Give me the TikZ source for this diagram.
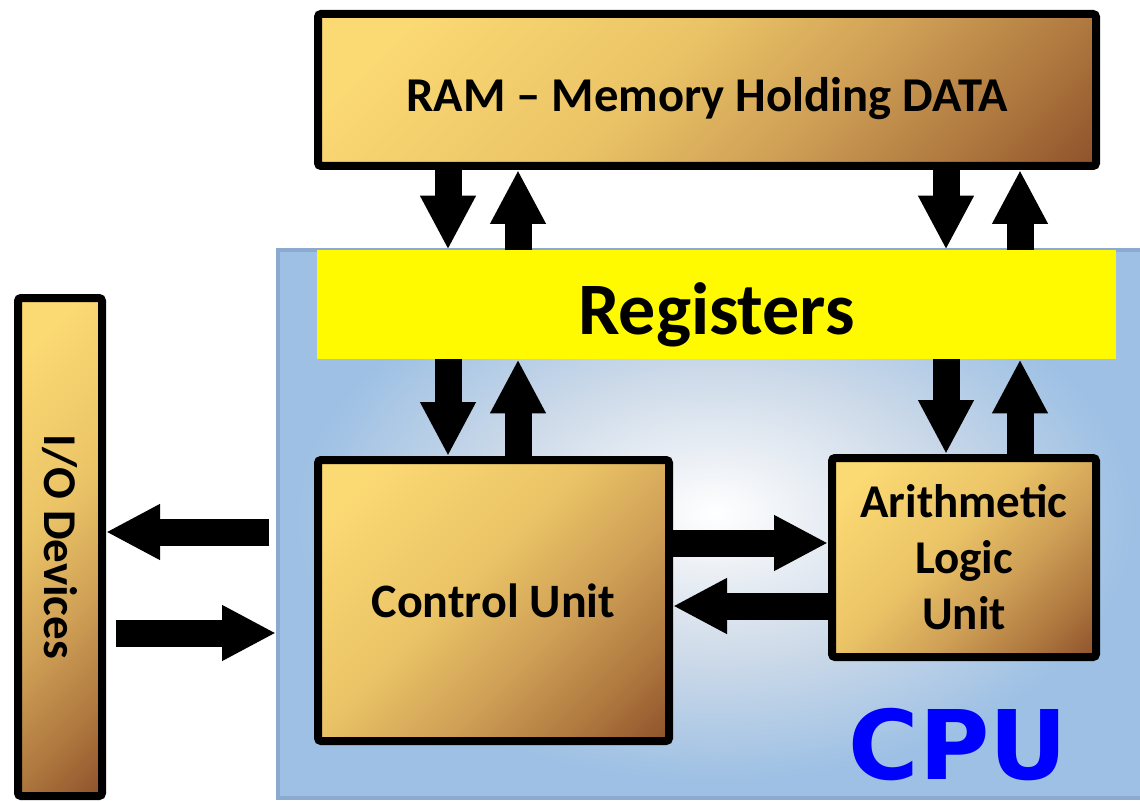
\documentclass[tikz,border=0pt]{standalone}
\usepackage{fontspec}
\setmainfont{Carlito}
\newfontfamily\cpufont{DejaVu Sans}
\usetikzlibrary{arrows.meta, shadows}

\definecolor{goldA}{RGB}{251,217,115}
\definecolor{goldB}{RGB}{234,195,102}
\definecolor{goldC}{RGB}{207,160,86}
\definecolor{goldD}{RGB}{175,120,63}
\definecolor{goldE}{RGB}{140,80,42}
\definecolor{cpublue}{RGB}{157,192,228}
\definecolor{cpuglowA}{RGB}{240,243,247}
\definecolor{cpuglowB}{RGB}{205,218,233}
\definecolor{cpuedge}{RGB}{140,170,208}
\definecolor{regyellow}{RGB}{255,250,0}
\definecolor{cpuink}{RGB}{0,0,255}

\pgfdeclarehorizontalshading{goldfill}{100bp}{color(0bp)=(goldA); color(22bp)=(goldA); color(45bp)=(goldB); color(60bp)=(goldC); color(74bp)=(goldD); color(86bp)=(goldE); color(100bp)=(goldE)}
\pgfdeclareradialshading{cpuglow}{\pgfpoint{0bp}{1bp}}{color(0bp)=(white); color(4bp)=(cpuglowA); color(13bp)=(cpuglowB); color(24bp)=(cpublue); color(50bp)=(cpublue)}

\tikzset{
  goldbox/.style={draw=black, line width=4pt, rounded corners=1.5pt, shading=goldfill, shading angle=-45,
    inner sep=0pt, align=center, font=\bfseries\fontsize{23.5}{28}\selectfont,
    drop shadow={shadow xshift=1.5pt, shadow yshift=-1.5pt, opacity=0.3}},
  flow/.style={line width=13.5pt, -{Triangle[length=27pt,width=26pt]}}
}

\begin{document}
\begin{tikzpicture}[x=0.5pt,y=-0.5pt]
    \useasboundingbox (0,0) rectangle (1140,802);

    \node (cpu) [draw=cpuedge, line width=2pt, shading=cpuglow, minimum width=437pt, minimum height=274pt, inner sep=0pt] at (715,524) {};
    \node (reg) [fill=regyellow, minimum width=399.5pt, minimum height=54.5pt, inner sep=0pt, text height=30.5pt, text depth=0pt,
        font=\bfseries\fontsize{37}{40}\selectfont] at (716.5,304.5) {Registers};
    \node (ram) [goldbox, minimum width=389pt, minimum height=76pt, text height=22pt, text depth=0pt,
        font=\bfseries\fontsize{24.3}{28}\selectfont] at (707,90) {RAM -- Memory Holding DATA};
    \node (cu) [goldbox, minimum width=175.5pt, minimum height=140.5pt, font=\bfseries\fontsize{24}{28}\selectfont] at (493.5,600.5) {Control Unit};
    \node (alu) [goldbox, minimum width=132pt, minimum height=99.5pt] at (964,557.5) {Arithmetic\\Logic\\Unit};
    \node (io) [goldbox, minimum width=42pt, minimum height=249pt] at (60,547) {\rotatebox{-90}{I/O Devices}};
    \node (cpulabel) [text=cpuink, font=\cpufont\bfseries\fontsize{48}{48}\selectfont] at (958,745) {CPU};

    \coordinate (laneA) at (448,0);
    \coordinate (laneB) at (518,0);
    \coordinate (laneC) at (946,0);
    \coordinate (laneD) at (1020,0);
    \coordinate (rowA) at (0,543);
    \coordinate (rowB) at (0,606);
    \coordinate (ioout) at (269,532);
    \coordinate (ioin) at (116,633);

    \foreach \down/\up in {laneA/laneB, laneC/laneD} {
        \draw[flow] (ram.south -| \down) -- (reg.north -| \down);
        \draw[flow] (reg.north -| \up) -- (ram.south -| \up);
    }
    \foreach \down/\up/\unit in {laneA/laneB/cu, laneC/laneD/alu} {
        \draw[flow] (reg.south -| \down) -- (\unit.north -| \down);
        \draw[flow] (\unit.north -| \up) -- (reg.south -| \up);
    }
    \draw[flow] (cu.east |- rowA) -- (alu.west |- rowA);
    \draw[flow] (alu.west |- rowB) -- (cu.east |- rowB);
    \draw[flow] (ioout) -- (io.east |- ioout);
    \draw[flow] (ioin) -- (cpu.west |- ioin);

\end{tikzpicture}
\end{document}
